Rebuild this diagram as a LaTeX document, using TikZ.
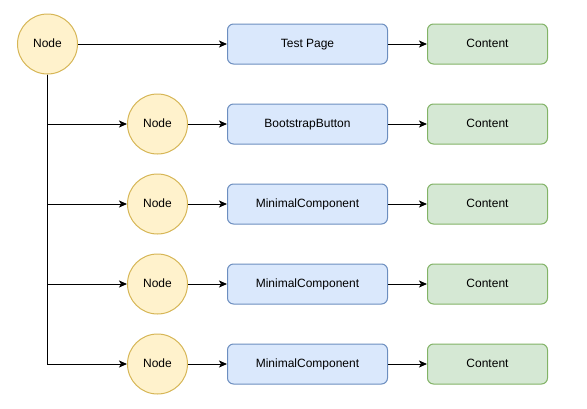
\documentclass[tikz,border=0pt]{standalone}
\usepackage{fontspec}
\setmainfont{Liberation Sans}
\usetikzlibrary{arrows.meta}
\definecolor{hubfill}{HTML}{FFF2CC}
\definecolor{hubline}{HTML}{D6B656}
\definecolor{pagefill}{HTML}{DAE8FC}
\definecolor{pageline}{HTML}{6C8EBF}
\definecolor{contentfill}{HTML}{D5E8D4}
\definecolor{contentline}{HTML}{82B366}

\begin{document}
\begin{tikzpicture}[x=1pt,y=-1pt,
    every node/.style={font=\fontsize{12}{14}\selectfont, inner sep=0pt,
      text height=8.6pt, text depth=2.6pt},
    hub/.style={circle, draw=hubline, fill=hubfill, line width=1pt, minimum size=60pt},
    page/.style={rectangle, rounded corners=6pt, draw=pageline, fill=pagefill,
      line width=1pt, minimum width=160pt, minimum height=40pt},
    content/.style={rectangle, rounded corners=6pt, draw=contentline, fill=contentfill,
      line width=1pt, minimum width=120pt, minimum height=40pt},
    arrow/.style={line width=1pt, -{Stealth[length=8pt, width=7pt, inset=2pt]}}]
    \useasboundingbox (0,0) rectangle (587,408);
    % top row: root node straight to the test page
    \node[hub] (root) at (47.5,44) {Node};
    \node[page] (page0) at (307.5,44) {Test Page};
    \node[content] (content0) at (487.5,44) {Content};
    \draw[arrow] (root) -- (page0);
    \draw[arrow] (page0) -- (content0);
    % branch rows hanging off the root
    \foreach \i/\name in {1/BootstrapButton, 2/MinimalComponent,
                          3/MinimalComponent, 4/MinimalComponent} {
      \node[hub] (node\i) at (157.5,{44+80*\i}) {Node};
      \node[page] (page\i) at (307.5,{44+80*\i}) {\name};
      \node[content] (content\i) at (487.5,{44+80*\i}) {Content};
      \draw[arrow] (root.south) |- (node\i);
      \draw[arrow] (node\i) -- (page\i);
      \draw[arrow] (page\i) -- (content\i);
    }
  \end{tikzpicture}
\end{document}
